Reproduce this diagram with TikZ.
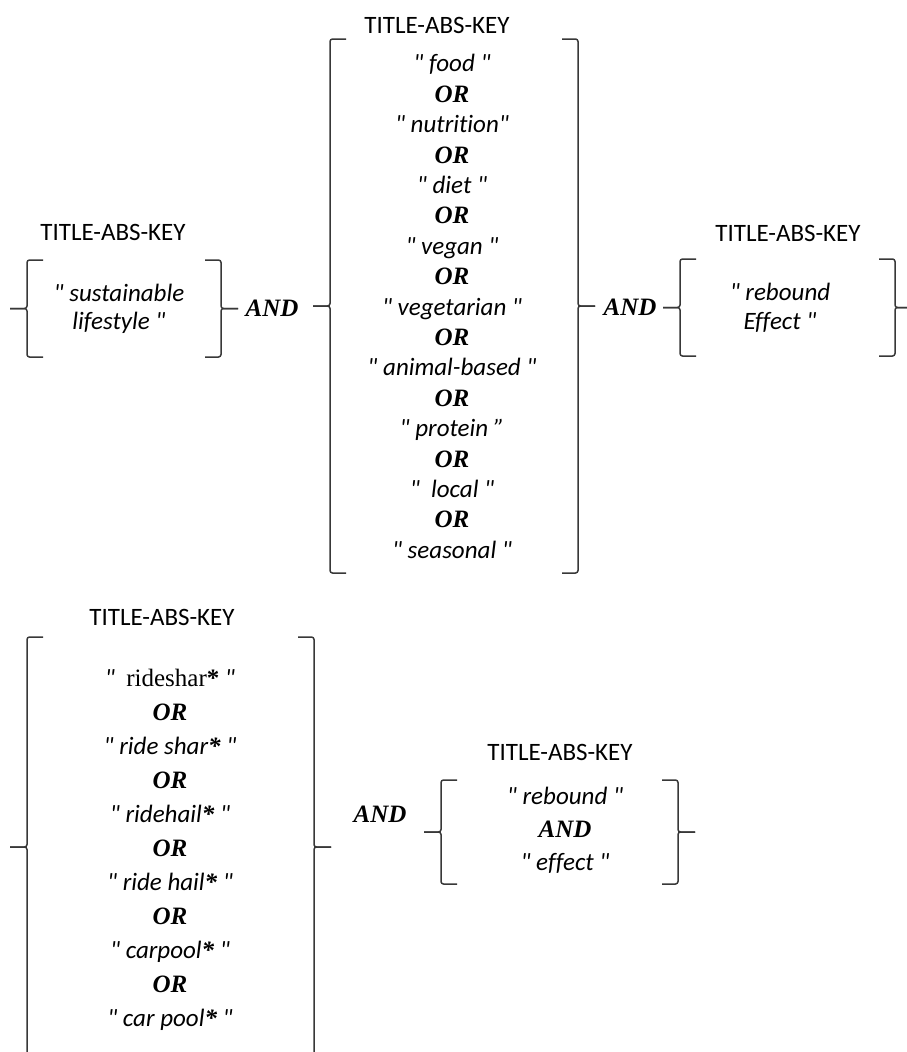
\documentclass[tikz,border=0pt]{standalone}
\usepackage{fontspec}
\setmainfont{Carlito}[Ligatures={TeXOff,CommonOff}]
\newfontfamily\tnr{Liberation Serif}[Ligatures={TeXOff,CommonOff}]
\newcommand{\fsz}{\fontsize{25}{30}\selectfont}
\newcommand{\orop}{{\tnr\bfseries\itshape OR}}
\newcommand{\andop}{{\tnr\bfseries\itshape AND}}
\newcommand{\stx}{{\tnr\bfseries *}}
\tikzset{
  frame/.style={inner sep=0pt, outer sep=0pt},
  brk/.style={draw=black!78, line width=1.5pt, rounded corners=2.5pt},
  title/.style={inner sep=0pt, font=\fsz},
  op/.style={inner sep=0pt, font=\fsz\tnr\bfseries\itshape},
  terms/.style={inner sep=0pt, align=center, font=\fontsize{25}{#1}\selectfont\itshape},
}

\begin{document}
\begin{tikzpicture}[x=1pt, y=-1pt]
  \useasboundingbox (0,0) rectangle (906,1052);

  % ---------- bracket frames ----------
  \node[frame, minimum width=194pt, minimum height=97pt]  (g1) at (124,308.5) {};
  \node[frame, minimum width=248pt, minimum height=534pt] (g2) at (454,306) {};
  \node[frame, minimum width=215pt, minimum height=97pt]  (g3) at (787.5,307.5) {};
  \node[frame, minimum width=287pt, minimum height=420pt] (g4) at (170.5,847) {};
  \node[frame, minimum width=237pt, minimum height=104pt] (g5) at (559.5,832) {};

  \foreach \g in {g1,g2,g3,g4,g5}{
    \draw[brk] ([xshift=16pt]\g.north west) -- (\g.north west) -- (\g.west) -- ++(-17,0);
    \draw[brk] ([xshift=-17pt]\g.west) -- (\g.west) -- (\g.south west) -- ([xshift=16pt]\g.south west);
    \draw[brk] ([xshift=-16pt]\g.north east) -- (\g.north east) -- (\g.east) -- ++(17,0);
    \draw[brk] ([xshift=17pt]\g.east) -- (\g.east) -- (\g.south east) -- ([xshift=-16pt]\g.south east);
  }

  % ---------- titles ----------
  \node[title] (t1) at (113,232) {TITLE-ABS-KEY};
  \node[title] (t2) at (437,25)  {TITLE-ABS-KEY};
  \node[title] (t3) at (788,233) {TITLE-ABS-KEY};
  \node[title] (t4) at (162,617) {TITLE-ABS-KEY};
  \node[title] (t5) at (560,752) {TITLE-ABS-KEY};

  % ---------- search terms ----------
  \node[terms=28] (w1) at (119,309) {" sustainable\\lifestyle "};
  \node[terms=30.4] (w2) at (452,306.5)
    {" food "\\\orop\\" nutrition"\\\orop\\" diet "\\\orop\\" vegan "\\\orop\\
     " vegetarian "\\\orop\\" animal-based "\\\orop\\" protein ”\\\orop\\
     "~~local "\\\orop\\" seasonal "};
  \node[terms=29] (w3) at (780,307.5) {" rebound\\Effect "};
  \node[terms=34] (w4) at (170,850)
    {"~~{\tnr\upshape rideshar\stx}~"\\\orop\\" ride shar\stx{} "\\\orop\\" ridehail\stx{} "\\\orop\\
     " ride hail\stx{} "\\\orop\\" carpool\stx{} "\\\orop\\" car pool\stx{} "};
  \node[terms=33] (w5) at (565,830) {" rebound "\\\andop\\" effect "};

  % ---------- operators between groups ----------
  \node[op] (a1) at (272,308) {AND};
  \node[op] (a2) at (630,307) {AND};
  \node[op] (a4) at (380,814) {AND};

\end{tikzpicture}
\end{document}
